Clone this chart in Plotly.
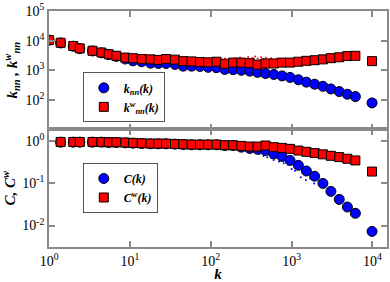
import plotly.graph_objects as go

# degree bins
k = [1, 1.39, 1.99, 2.40, 3.44, 4.45, 5.47, 6.79, 8.77, 10.9, 14.0, 18.0, 22.5, 28.0, 36.1,
     45.7, 57.9, 73.5, 92.9, 118, 149, 189, 239, 303, 379, 476, 603, 762, 957, 1213,
     1524, 1928, 2438, 3062, 3882, 4898, 6152, 9886]

knn = [10470, 8400, 6500, 5400, 4500, 3890, 3390, 2950, 2400, 2090, 1950, 1740, 1700, 1700,
       1580, 1380, 1380, 1350, 1260, 1230, 1070, 1050, 1000, 933, 851, 776, 724, 646, 575,
       479, 398, 339, 288, 234, 191, 155, 129, 79]

knn_w = [10470, 8510, 6610, 5500, 4570, 3980, 3470, 3090, 2690, 2570, 2400, 2340, 2240, 2400,
         2290, 2040, 2000, 1910, 1860, 1950, 1660, 1820, 1820, 1740, 1550, 1700, 1700, 1820,
         1820, 1950, 2090, 2190, 2340, 2570, 2750, 3020, 3090, 2040]

# clustering (no k=1 bin)
kc = k[1:]
C = [0.953, 0.953, 0.953, 0.953, 0.953, 0.935, 0.935, 0.92, 0.903, 0.887, 0.871, 0.871, 0.871,
     0.855, 0.839, 0.826, 0.826, 0.826, 0.826, 0.795, 0.794, 0.724, 0.676, 0.646, 0.603,
     0.501, 0.437, 0.351, 0.269, 0.197, 0.148, 0.100, 0.0646, 0.0417, 0.0275, 0.0195, 0.00724]

C_w = [0.964, 0.964, 0.964, 0.964, 0.964, 0.946, 0.946, 0.931, 0.914, 0.897, 0.881, 0.881, 0.881,
       0.865, 0.849, 0.836, 0.836, 0.836, 0.836, 0.805, 0.805, 0.776, 0.750, 0.750, 0.794,
       0.724, 0.697, 0.661, 0.603, 0.562, 0.525, 0.490, 0.452, 0.421, 0.384, 0.351, 0.191]

# raw (unbinned) points, hand-read from the cloud
raw_kw_k = [120, 135, 150, 165, 180, 200, 215, 230, 250, 270, 290, 310, 330, 355, 380, 400,
            420, 450, 480, 520, 560, 600, 650, 700, 780, 250, 320, 420]
raw_kw_v = [2300, 2150, 2500, 2050, 2400, 2600, 2200, 2700, 2450, 2100, 2800, 2350, 2600, 2900,
            2500, 2200, 2750, 2400, 2650, 2300, 2550, 2100, 2450, 2300, 2200, 1650, 1600, 1750]
raw_k_k = [100, 110, 200, 260, 330, 400, 150]
raw_k_v = [1100, 900, 850, 900, 1100, 950, 1200]
raw_c_k = [250, 280, 300, 320, 340, 360, 380, 400, 420, 450, 480, 500, 530, 560, 600, 650,
           700, 750, 800, 900, 1000, 1100, 1300, 1500, 1700, 1900]
raw_c_v = [0.78, 0.72, 0.65, 0.70, 0.60, 0.55, 0.62, 0.50, 0.58, 0.45, 0.52, 0.42, 0.48, 0.40,
           0.36, 0.44, 0.33, 0.38, 0.30, 0.28, 0.22, 0.20, 0.14, 0.12, 0.13, 0.10]

FONT = "Liberation Serif"
BLUE = "#0000ff"
RED = "#ff0000"
FRAME = "#8a8a8a"

fig = go.Figure()

# raw dots
fig.add_trace(go.Scatter(x=raw_kw_k, y=raw_kw_v, mode="markers", showlegend=False,
                         marker=dict(size=2, color=RED), xaxis="x", yaxis="y"))
fig.add_trace(go.Scatter(x=raw_k_k, y=raw_k_v, mode="markers", showlegend=False,
                         marker=dict(size=2, color=BLUE), xaxis="x", yaxis="y"))
fig.add_trace(go.Scatter(x=raw_c_k, y=raw_c_v, mode="markers", showlegend=False,
                         marker=dict(size=2, color=BLUE), xaxis="x2", yaxis="y2"))

mk_c = dict(symbol="circle", size=10, color=BLUE, line=dict(color="black", width=1))
mk_s = dict(symbol="square", size=9, color=RED, line=dict(color="black", width=1))

fig.add_trace(go.Scatter(x=k, y=knn, mode="markers", marker=mk_c,
                         name="<b><i>k<sub>nn</sub>(k)</i></b>", xaxis="x", yaxis="y",
                         legend="legend"))
fig.add_trace(go.Scatter(x=k, y=knn_w, mode="markers", marker=mk_s,
                         name="<b><i>k<sup>w</sup><sub>nn</sub>(k)</i></b>", xaxis="x", yaxis="y",
                         legend="legend"))
fig.add_trace(go.Scatter(x=kc, y=C, mode="markers", marker=mk_c,
                         name="<b><i>C(k)</i></b>", xaxis="x2", yaxis="y2", legend="legend2"))
fig.add_trace(go.Scatter(x=kc, y=C_w, mode="markers", marker=mk_s,
                         name="<b><i>C<sup>w</sup>(k)</i></b>", xaxis="x2", yaxis="y2",
                         legend="legend2"))

xt = [1, 10, 100, 1000, 10000]
xt_txt = ["10<sup>0</sup>", "10<sup>1</sup>", "10<sup>2</sup>", "10<sup>3</sup>", "10<sup>4</sup>"]

ax_common = dict(type="log", showgrid=False, zeroline=False, showline=True, linecolor=FRAME,
                 linewidth=1.5, mirror="allticks", ticks="inside", ticklen=6, tickcolor=FRAME,
                 tickwidth=1.5, tickfont=dict(family=FONT, size=14, color="black"))

top_dom = [119 / 239, 1]
bot_dom = [0, 119 / 239]

fig.update_layout(
    width=390, height=282,
    margin=dict(l=49, r=1, t=8, b=35),
    paper_bgcolor="white", plot_bgcolor="white",
    font=dict(family=FONT, size=13, color="black"),
    xaxis=dict(**ax_common, range=[-0.001, 4.18], domain=[0, 1], anchor="y",
               tickvals=xt, ticktext=[""] * 5, showticklabels=False),
    yaxis=dict(**ax_common, range=[0.999, 5.004], domain=top_dom, anchor="x",
               tickvals=[10, 100, 1000, 10000, 100000],
               ticktext=["", "10<sup>2</sup>", "10<sup>3</sup>", "10<sup>4</sup>", "10<sup>5</sup>"],
               ticklabeloverflow="allow",
               title=dict(text="<b><i>k<sub>nn</sub> , k<sup>w</sup><sub>nn</sub></i></b>",
                          font=dict(family=FONT, size=15), standoff=4)),
    xaxis2=dict(**ax_common, range=[-0.001, 4.18], domain=[0, 1], anchor="y2",
                tickvals=xt, ticktext=xt_txt,
                title=dict(text="<b><i>k</i></b>", font=dict(family=FONT, size=15), standoff=0)),
    yaxis2=dict(**ax_common, range=[-2.51, 0.28], domain=bot_dom, anchor="x2",
                tickvals=[0.01, 0.1, 1],
                ticktext=["10<sup>-2</sup>", "10<sup>-1</sup>", "10<sup>0</sup>"],
                title=dict(text="<b><i>C, C<sup>w</sup></i></b>",
                           font=dict(family=FONT, size=15), standoff=4)),
    legend=dict(x=0.1, y=0.74, xanchor="left", yanchor="top", bgcolor="white",
                bordercolor="#555555", borderwidth=1, font=dict(family=FONT, size=12),
                itemwidth=30, tracegroupgap=0),
    legend2=dict(x=0.1, y=0.356, xanchor="left", yanchor="top", bgcolor="white",
                 bordercolor="#555555", borderwidth=1, font=dict(family=FONT, size=12),
                 itemwidth=30, tracegroupgap=0),
)

fig.write_html("out.html", config={"displayModeBar": False},
               post_script="document.body.style.margin='0';document.body.style.padding='0';")
